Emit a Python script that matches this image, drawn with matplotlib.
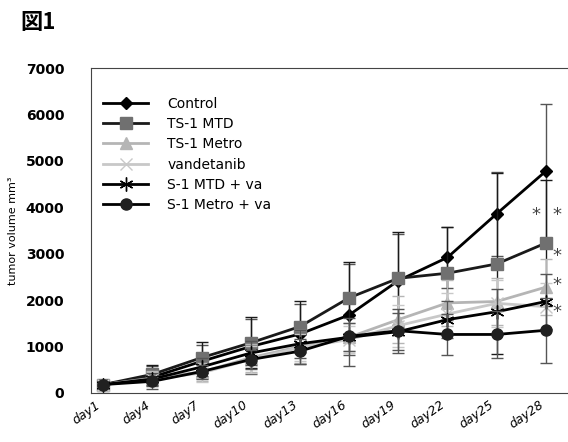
import matplotlib.pyplot as plt

days = ['day1', 'day4', 'day7', 'day10', 'day13', 'day16', 'day19', 'day22', 'day25', 'day28']

control = [180, 340, 680, 1000, 1270, 1680, 2420, 2920, 3860, 4780]
ts1_mtd = [180, 400, 760, 1080, 1430, 2050, 2470, 2580, 2780, 3230]
ts1_metro = [180, 320, 450, 760, 1000, 1200, 1580, 1940, 1970, 2280]
vandetanib = [180, 300, 430, 720, 980, 1150, 1450, 1700, 1930, 1860]
s1_mtd_va = [180, 300, 560, 860, 1060, 1200, 1320, 1580, 1750, 1970]
s1_metro_va = [180, 250, 460, 720, 900, 1220, 1340, 1260, 1260, 1350]

control_err = [60, 250, 360, 600, 650, 1100, 1000, 650, 900, 1450]
ts1_mtd_err = [60, 200, 330, 550, 550, 780, 1000, 1000, 1950, 1350]
ts1_metro_err = [50, 150, 200, 300, 350, 300, 500, 500, 500, 600]
vandetanib_err = [50, 150, 200, 300, 300, 300, 450, 450, 500, 500]
s1_mtd_va_err = [50, 120, 200, 250, 300, 300, 400, 400, 500, 600]
s1_metro_va_err = [40, 100, 150, 200, 270, 400, 470, 450, 500, 700]

fig = plt.figure(figsize=(5.68, 4.42), dpi=100)
ax = fig.add_axes([0.160, 0.111, 0.840, 0.735])

x = list(range(len(days)))

series = [
    ('Control', control, control_err, 'black', 'black', 'D', 6),
    ('TS-1 MTD', ts1_mtd, ts1_mtd_err, '#1a1a1a', '#707070', 's', 8),
    ('TS-1 Metro', ts1_metro, ts1_metro_err, '#b5b5b5', '#b5b5b5', '^', 8),
    ('vandetanib', vandetanib, vandetanib_err, '#c8c8c8', '#c8c8c8', 'x', 8),
    ('S-1 MTD + va', s1_mtd_va, s1_mtd_va_err, 'black', 'black', (6, 2, 0), 10),
    ('S-1 Metro + va', s1_metro_va, s1_metro_va_err, 'black', '#202020', 'o', 8),
]

for name, vals, err, lc, mc, mk, ms in series:
    # error bars first, then the line with markers (used for the legend)
    ax.errorbar(x, vals, yerr=err, fmt='none', ecolor='#555555' if lc == 'black' else lc,
                elinewidth=1, capsize=4)
    ax.plot(x, vals, color=lc, marker=mk, markersize=ms,
            markerfacecolor=mc, markeredgecolor=mc, linewidth=2, label=name)

# significance marks
star_kw = dict(fontsize=13, ha='center', va='center', color='#444444')
ax.text(8.8, 3840, '*', **star_kw)
ax.text(9.22, 3840, '*', **star_kw)
ax.text(9.22, 2960, '*', **star_kw)
ax.text(9.22, 2330, '*', **star_kw)
ax.text(9.22, 1750, '*', **star_kw)

ax.set_ylim(0, 7000)
ax.set_xlim(-0.25, 9.45)
ax.set_yticks(range(0, 7001, 1000))
ax.set_xticks(x)
ax.set_xticklabels(days, rotation=35, ha='right', fontsize=9, style='italic')
ax.tick_params(axis='y', length=0, pad=19, labelsize=10)
ax.tick_params(axis='x', length=0, pad=4)
for lbl in ax.get_yticklabels():
    lbl.set_fontweight('bold')
ax.spines['right'].set_visible(False)
for s in ['left', 'top', 'bottom']:
    ax.spines[s].set_linewidth(0.8)
    ax.spines[s].set_color('#444444')

ax.set_ylabel('tumor volume mm³', fontsize=8, labelpad=6)

ax.legend(loc='upper left', bbox_to_anchor=(0.0, 0.95), frameon=False, fontsize=10,
          handlelength=3.2, handletextpad=1.4, labelspacing=0.45)

fig.text(0.035, 0.935, '図1', fontsize=16, fontweight='bold',
         family=['Noto Sans CJK JP', 'DejaVu Sans'])

fig.savefig('out.png', dpi=100)
